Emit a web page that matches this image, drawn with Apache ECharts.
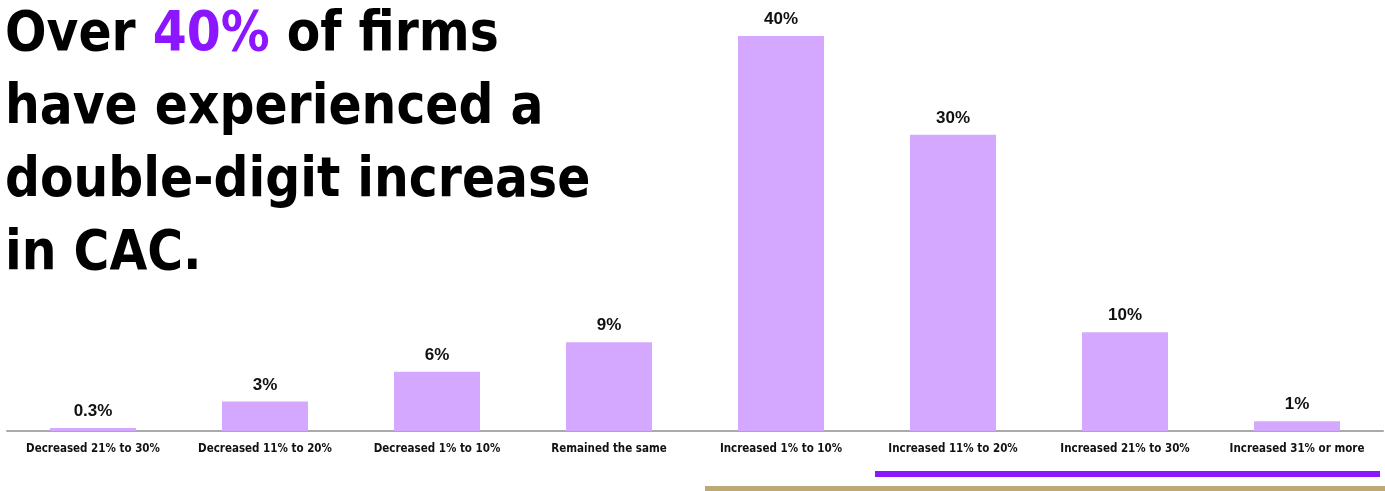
<!DOCTYPE html>
<html>
<head>
<meta charset="utf-8">
<script src="https://cdn.jsdelivr.net/npm/echarts@6/dist/echarts.min.js"></script>
<style>
  html, body { margin: 0; padding: 0; background: #fff; }
  #chart { width: 1385px; height: 491px; }
</style>
</head>
<body>
<div id="chart"></div>
<script>
var categories = ['Decreased 21% to 30%', 'Decreased 11% to 20%', 'Decreased 1% to 10%', 'Remained the same',
  'Increased 1% to 10%', 'Increased 11% to 20%', 'Increased 21% to 30%', 'Increased 31% or more'];
var shares = [0.3, 3, 6, 9, 40, 30, 10, 1];

var myChart = echarts.init(document.getElementById('chart'));
window.addEventListener('resize', function(){
  myChart.resize();
});

var headFont = 'DejaVu Sans Condensed';

myChart.setOption({
  animation: false,
  grid: { left: 7, right: 2, top: 36, bottom: 60 },
  xAxis: {
    type: 'category',
    data: categories,
    axisTick: { show: false },
    axisLine: { lineStyle: { color: '#aaaaaa', width: 2 } },
    axisLabel: {
      margin: 12,
      interval: 0,
      color: '#111',
      fontFamily: headFont,
      fontWeight: 'bold',
      fontSize: 11.5
    }
  },
  yAxis: {
    type: 'value',
    min: 0,
    max: 40,
    show: false,
    splitLine: { show: false }
  },
  series: [{
    type: 'bar',
    data: shares,
    barWidth: '50%',
    itemStyle: { color: '#d4a8ff' },
    label: {
      show: true,
      position: 'top',
      distance: 8,
      color: '#111',
      fontFamily: 'Liberation Sans',
      fontWeight: 'bold',
      fontSize: 17,
      formatter: function (p) { return p.value + '%'; }
    }
  }],
  graphic: [
    {
      type: 'text',
      x: 5,
      y: -1,
      scaleX: 0.97,
      style: {
        text: '{a|Over }{p|40%}{a| of firms}\n{a|have experienced a}\n{a|double-digit increase}\n{a|in CAC.}',
        rich: {
          a: { fontFamily: headFont, fontWeight: 'bold', fontSize: 56, fill: '#000', lineHeight: 73 },
          p: { fontFamily: headFont, fontWeight: 'bold', fontSize: 56, fill: '#8c17ff', lineHeight: 73 }
        }
      }
    },
    { type: 'rect', shape: { x: 875, y: 471, width: 505, height: 6 }, style: { fill: '#8c17ff' } },
    { type: 'rect', shape: { x: 705, y: 486, width: 680, height: 5 }, style: { fill: '#bfa878' } }
  ]
});
</script>
</body>
</html>
